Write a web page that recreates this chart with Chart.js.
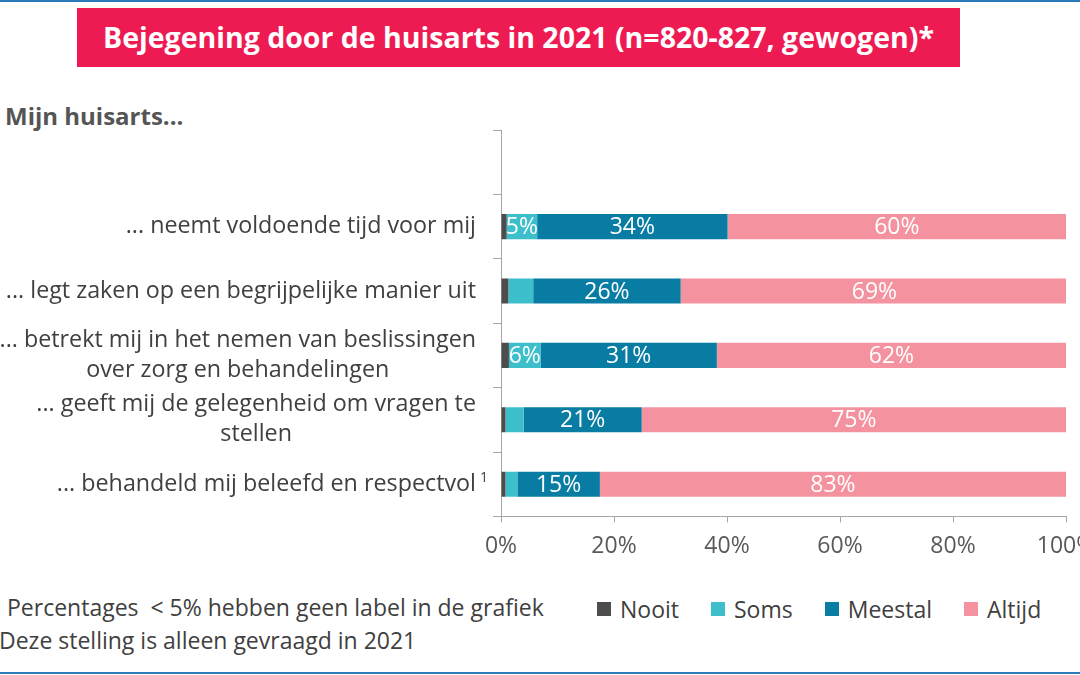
<!DOCTYPE html>
<html>
<head>
<meta charset="utf-8">
<script src="https://cdn.jsdelivr.net/npm/chart.js@4.4.1/dist/chart.umd.min.js"></script>
<style>
  html, body { margin: 0; padding: 0; background: #fff; }
  body { width: 1080px; height: 675px; overflow: hidden; position: relative; font-family: "Open Sans", sans-serif; }
  .rule { position: absolute; left: 0; width: 1080px; height: 2px; background: #2b7bba; }
  #title {
    position: absolute; left: 77px; top: 8px; width: 883px; height: 59px;
    background: #ee1b53; color: #fff; font-weight: bold; font-size: 28.5px;
    line-height: 59px; text-align: center; white-space: nowrap;
  }
  #subtitle { position: absolute; left: 5px; top: 99px; font-size: 24px; font-weight: bold; color: #555; }
  #chartWrap { position: absolute; left: 0; top: 0; width: 1110px; height: 570px; }
  .note { position: absolute; font-size: 23px; color: #404040; white-space: nowrap; }
  #legend { position: absolute; left: 597px; top: 593px; display: flex; align-items: center; font-size: 23px; color: #404040; }
  #legend .item { display: flex; align-items: center; margin-right: 32px; }
  #legend .box { width: 14px; height: 14px; margin-right: 9px; }
</style>
</head>
<body>
<div class="rule" style="top:0"></div>
<div id="title">Bejegening door de huisarts in 2021 (n=820-827, gewogen)*</div>
<div id="subtitle">Mijn huisarts...</div>
<div id="chartWrap"><canvas id="mainChart" width="1110" height="570"></canvas></div>
<div class="note" style="left:7px; top:591px;">Percentages &nbsp;&lt; 5% hebben geen label in de grafiek</div>
<div class="note" style="left:-1px; top:624px;">Deze stelling is alleen gevraagd in 2021</div>
<div id="legend"></div>
<div class="rule" style="top:672px"></div>

<script>
// first slot is left empty, as in the original
const categories = ['', 'tijd', 'uitleg', 'beslissingen', 'vragen', 'respect'];
const rowLabels = [
  [],
  ['... neemt voldoende tijd voor mij'],
  ['... legt zaken op een begrijpelijke manier uit'],
  ['... betrekt mij in het nemen van beslissingen', 'over zorg en behandelingen'],
  ['... geeft mij de gelegenheid om vragen te', 'stellen'],
  ['... behandeld mij beleefd en respectvol']
];
const rowMarks = ['', '', '', '', '', '1'];

const nooit   = [null, 1.0, 1.3, 1.4, 0.8, 0.8];
const soms    = [null, 5.4, 4.4, 5.6, 3.2, 2.1];
const meestal = [null, 33.7, 26.1, 31.2, 20.9, 14.6];
const altijd  = [null, 59.9, 68.6, 61.8, 75.1, 82.5];

const xTicks = [0, 20, 40, 60, 80, 100];

const seriesNames = ['Nooit', 'Soms', 'Meestal', 'Altijd'];
const seriesColors = ['#4d4d4d', '#3cbfcb', '#087ca3', '#f4939f'];

const FONT = '"Open Sans", sans-serif';

// percentages on the bars, only from 5% upwards
const barLabels = {
  id: 'barLabels',
  afterDatasetsDraw(chart) {
    const ctx = chart.ctx;
    ctx.save();
    ctx.font = '23px ' + FONT;
    ctx.fillStyle = '#fff';
    ctx.textAlign = 'center';
    ctx.textBaseline = 'middle';
    chart.data.datasets.forEach((ds, di) => {
      const meta = chart.getDatasetMeta(di);
      meta.data.forEach((bar, i) => {
        const v = ds.data[i];
        if (v == null || Math.round(v) < 5) return;
        ctx.fillText(Math.round(v) + '%', (bar.x + bar.base) / 2, bar.y + 1);
      });
    });
    ctx.restore();
  }
};

// category texts: block right aligned, lines centred inside the block
const rowText = {
  id: 'rowText',
  afterDraw(chart) {
    const ctx = chart.ctx;
    const y = chart.scales.y;
    const right = chart.chartArea.left - 25;
    ctx.save();
    ctx.fillStyle = '#404040';
    ctx.textBaseline = 'middle';
    rowLabels.forEach((lines, i) => {
      if (!lines.length) return;
      ctx.font = '23.3px ' + FONT;
      const yc = y.getPixelForValue(i);
      const w = Math.max(...lines.map(l => ctx.measureText(l).width));
      ctx.textAlign = 'center';
      lines.forEach((l, j) => {
        ctx.fillText(l, right - w / 2, yc + (j - (lines.length - 1) / 2) * 30);
      });
      if (rowMarks[i]) {
        ctx.font = '14px ' + FONT;
        ctx.textAlign = 'left';
        ctx.fillText(rowMarks[i], right + 4, yc - 6);
      }
    });
    ctx.restore();
  }
};

const datasets = [nooit, soms, meestal, altijd].map((data, i) => ({
  label: seriesNames[i],
  data: data,
  backgroundColor: seriesColors[i],
  borderWidth: 0,
  barPercentage: 0.39,
  categoryPercentage: 1
}));

new Chart(document.getElementById('mainChart'), {
  type: 'bar',
  data: { labels: categories, datasets: datasets },
  options: {
    indexAxis: 'y',
    responsive: false,
    animation: false,
    layout: { padding: { left: 493, top: 130, right: 44, bottom: 0 } },
    plugins: { legend: { display: false }, tooltip: { enabled: false } },
    scales: {
      x: {
        stacked: true,
        min: 0,
        max: 100,
        afterBuildTicks: scale => { scale.ticks = xTicks.map(v => ({ value: v })); },
        ticks: {
          callback: v => v + '%',
          font: { family: FONT, size: 23 },
          color: '#595959',
          padding: 10,
          maxRotation: 0
        },
        grid: { drawOnChartArea: false, tickLength: 6, color: '#a6a6a6' },
        border: { display: true, color: '#a6a6a6' }
      },
      y: {
        stacked: true,
        ticks: { display: false },
        grid: { offset: true, drawOnChartArea: false, tickLength: 8, color: '#a6a6a6' },
        border: { display: true, color: '#a6a6a6' }
      }
    }
  },
  plugins: [barLabels, rowText]
});

const legend = document.getElementById('legend');
seriesNames.forEach((name, i) => {
  const item = document.createElement('div');
  item.className = 'item';
  item.innerHTML = `<span class="box" style="background:${seriesColors[i]}"></span>${name}`;
  legend.appendChild(item);
});
</script>
</body>
</html>
